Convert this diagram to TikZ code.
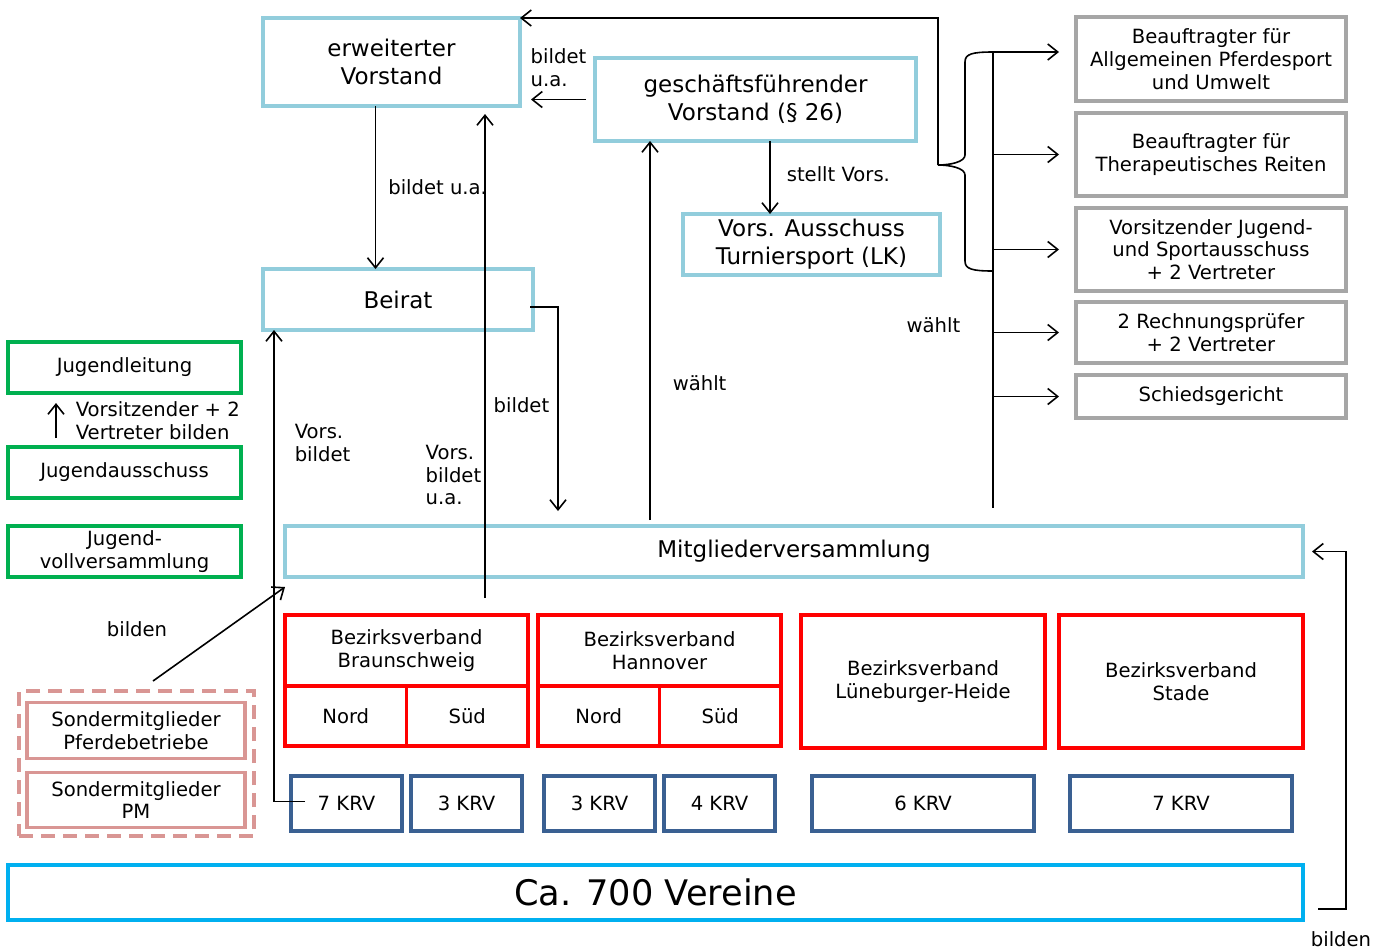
\documentclass[tikz,border=0pt]{standalone}
\usepackage{fontspec}
\setmainfont{DejaVu Sans}
\usetikzlibrary{arrows.meta,positioning}

\definecolor{vorstandblau}{RGB}{146,205,220}
\definecolor{wahlgrau}{RGB}{166,166,166}
\definecolor{jugendgruen}{RGB}{0,176,80}
\definecolor{sonderrosa}{RGB}{217,150,148}
\definecolor{bezirksrot}{RGB}{255,0,0}
\definecolor{krvblau}{RGB}{58,96,146}
\definecolor{vereinsblau}{RGB}{0,176,240}

\newcommand{\kleinschrift}{\fontsize{9.8}{11.4}\selectfont}
\newcommand{\grossschrift}{\fontsize{11.5}{14}\selectfont}
\newcommand{\riesenschrift}{\fontsize{17.6}{21}\selectfont}

\tikzset{
  kasten/.style={draw,line width=1.6pt,inner sep=0pt,outer sep=0pt,align=center,font=\kleinschrift},
  vorstand/.style={kasten,draw=vorstandblau,font=\grossschrift},
  beauftragt/.style={kasten,draw=wahlgrau,minimum width=135pt},
  jugend/.style={kasten,draw=jugendgruen,minimum width=116.5pt,minimum height=25.5pt},
  sonder/.style={kasten,draw=sonderrosa,minimum width=109pt,minimum height=27.75pt},
  bezirk/.style={kasten,draw=bezirksrot},
  krv/.style={kasten,draw=krvblau,minimum height=27.5pt},
  pfeil/.style={-{Straight Barb[length=5pt,width=8pt]},line width=0.8pt},
  beschriftung/.style={inner sep=0pt,align=left,font=\kleinschrift},
}

\begin{document}
\begin{tikzpicture}[x=0.5pt,y=-0.5pt]
\useasboundingbox (0,0) rectangle (1387,949);

% Vorstaende und Versammlung
\node[vorstand,minimum width=128.5pt,minimum height=44pt] (ev) at (391.5,62) {erweiterter\\Vorstand};
\node[vorstand,minimum width=160.5pt,minimum height=41.5pt] (gv) at (755.5,99.5) {geschäftsführender\\Vorstand (§ 26)};
\node[vorstand,minimum width=128.5pt,minimum height=30.5pt] (vat) at (811.5,244.5) {Vors. Ausschuss\\Turniersport (LK)};
\node[vorstand,minimum width=135pt,minimum height=30.5pt] (beirat) at (398,299.5) {Beirat};
\node[vorstand,minimum width=509pt,minimum height=25.5pt] (mv) at (794,551.5) {Mitgliederversammlung};

% gewaehlte Aemter
\node[beauftragt,minimum height=42pt] (b1) at (1211,59) {Beauftragter für\\Allgemeinen Pferdesport\\und Umwelt};
\node[beauftragt,minimum height=41.5pt] (b2) at (1211,154.5) {Beauftragter für\\Therapeutisches Reiten};
\node[beauftragt,minimum height=41.5pt] (b3) at (1211,249.5) {Vorsitzender Jugend-\\und Sportausschuss\\+ 2 Vertreter};
\node[beauftragt,minimum height=30.5pt] (b4) at (1211,332.5) {2 Rechnungsprüfer\\+ 2 Vertreter};
\node[beauftragt,minimum height=21.5pt] (b5) at (1211,396.5) {Schiedsgericht};

% Jugend
\node[jugend] (jl) at (124.5,367.5) {Jugendleitung};
\node[jugend] (ja) at (124.5,472.5) {Jugendausschuss};
\node[jugend] (jvv) at (124.5,551.5) {Jugend-\\vollversammlung};

% Sondermitglieder
\node[draw=sonderrosa,line width=1.6pt,dash pattern=on 7pt off 4pt,inner sep=0pt,outer sep=0pt,
      minimum width=117.5pt,minimum height=72.5pt] (sondergruppe) at (136.5,763.5) {};
\node[sonder] (spb) at (136,730.5) {Sondermitglieder\\Pferdebetriebe};
\node[sonder] (spm) at (136,800) {Sondermitglieder\\PM};

% Bezirksverbaende
\node[bezirk,minimum width=121.5pt,minimum height=35.5pt] (bsw) at (406.5,650.5) {Bezirksverband\\Braunschweig};
\node[bezirk,minimum width=60.75pt,minimum height=30pt,below right=0pt and 0pt of bsw.south west] (bswnord) {Nord};
\node[bezirk,minimum width=60.75pt,minimum height=30pt,right=0pt of bswnord] (bswsued) {Süd};
\node[bezirk,minimum width=121.5pt,minimum height=35.5pt] (han) at (659.5,650.5) {Bezirksverband\\Hannover};
\node[bezirk,minimum width=60.75pt,minimum height=30pt,below right=0pt and 0pt of han.south west] (hannord) {Nord};
\node[bezirk,minimum width=60.75pt,minimum height=30pt,right=0pt of hannord] (hansued) {Süd};
\node[bezirk,minimum width=122pt,minimum height=66.5pt] (lh) at (923,681.5) {Bezirksverband\\Lüneburger-Heide};
\node[bezirk,minimum width=122pt,minimum height=66.5pt] (std) at (1181,681.5) {Bezirksverband\\Stade};

% Kreisreiterverbaende
\node[krv,minimum width=55.5pt] (krv1) at (346.5,803.5) {7 KRV};
\node[krv,minimum width=55.5pt] (krv2) at (466.5,803.5) {3 KRV};
\node[krv,minimum width=55.5pt] (krv3) at (599.5,803.5) {3 KRV};
\node[krv,minimum width=55.5pt] (krv4) at (719.5,803.5) {4 KRV};
\node[krv,minimum width=111pt] (krv5) at (923,803.5) {6 KRV};
\node[krv,minimum width=111pt] (krv6) at (1181,803.5) {7 KRV};

\node[kasten,draw=vereinsblau,font=\riesenschrift,minimum width=647.5pt,minimum height=27.5pt] (vereine) at (655.5,892.5) {Ca. 700 Vereine};

% Verbindungen im Vorstand
\draw[pfeil] ([xshift=-8pt]ev.south) -- ([xshift=-8pt]ev.south |- beirat.north)
  node[beschriftung,pos=0.5,right=6pt] {bildet u.a.};
\draw[pfeil] ([xshift=-4.5pt]gv.west) -- ([xshift=5.5pt]gv.west -| ev.east)
  node[beschriftung,midway,above=6pt] {bildet\\u.a.};
\draw[pfeil] ([xshift=7.25pt]gv.south) -- ([xshift=7.25pt]gv.south |- vat.north)
  node[beschriftung,pos=0.45,right=8pt] {stellt Vors.};

% Wahlen der Mitgliederversammlung
\coordinate (klammerspitze) at (938,165);
\coordinate (wahloben) at (993,52);
\coordinate (wahlunten) at (993,508);
\draw[line width=0.8pt] (wahloben) .. controls (972,52) and (965,54) .. (965,62) -- (965,155)
  .. controls (965,162) and (950,165) .. (klammerspitze)
  .. controls (950,165) and (965,168) .. (965,175) -- (965,261)
  .. controls (965,269) and (972,271) .. (993,271);
\draw[pfeil] (klammerspitze) |- (ev.north east);
\draw[line width=0.8pt] (wahloben) -- (wahlunten)
  node[beschriftung,pos=0.6,left=16pt] {wählt};
\draw[pfeil] (wahloben) -- ([xshift=-8.5pt]wahloben -| b1.west);
\foreach \b in {b2,b3,b4,b5}
  \draw[pfeil] (wahlunten |- \b.west) -- ([xshift=-8.5pt]\b.west);

\coordinate (mvwahl) at ([xshift=-72pt,yshift=3pt]mv.north);
\draw[pfeil] (mvwahl) -- (mvwahl |- gv.south)
  node[beschriftung,pos=0.36,right=11pt] {wählt};

\coordinate (mvbeirat) at ([xshift=-118pt,yshift=7.5pt]mv.north);
\draw[pfeil] ([xshift=-1.5pt,yshift=-3.75pt]beirat.east) -| (mvbeirat)
  node[beschriftung,pos=0.74,left=4pt] {bildet};

\coordinate (bswvors) at ([xshift=39.25pt,yshift=8.5pt]bsw.north);
\draw[pfeil,shorten >=4pt] (bswvors) -- (bswvors |- ev.south)
  node[beschriftung,pos=0.25,left=1.5pt] {Vors.\\bildet\\u.a.};

\draw[pfeil] ([xshift=7pt,yshift=1pt]krv1.west) -| ([xshift=5.5pt]beirat.south west)
  node[beschriftung,pos=0.88,right=10pt] {Vors.\\bildet};

% Jugend und Sondermitglieder
\draw[pfeil,shorten >=5pt] ([xshift=-34.25pt,yshift=4.5pt]ja.north) -- ([xshift=-34.25pt]jl.south)
  node[beschriftung,pos=0.38,right=9.5pt] {Vorsitzender + 2\\Vertreter bilden};

\draw[pfeil] ([xshift=8.25pt,yshift=5pt]sondergruppe.north) -- ([yshift=-5pt]mv.south west);
\node[beschriftung] (bildenlinks) at (137,629) {bilden};

% Vereine bilden die Versammlung
\draw[pfeil] ([xshift=7.5pt,yshift=-8.25pt]vereine.east) -- ++(28,0) coordinate (vereinsecke) |- ([xshift=4.5pt]mv.east);
\node[beschriftung,below=11pt of vereinsecke,xshift=-2.5pt] (bildenrechts) {bilden};
\end{tikzpicture}
\end{document}
